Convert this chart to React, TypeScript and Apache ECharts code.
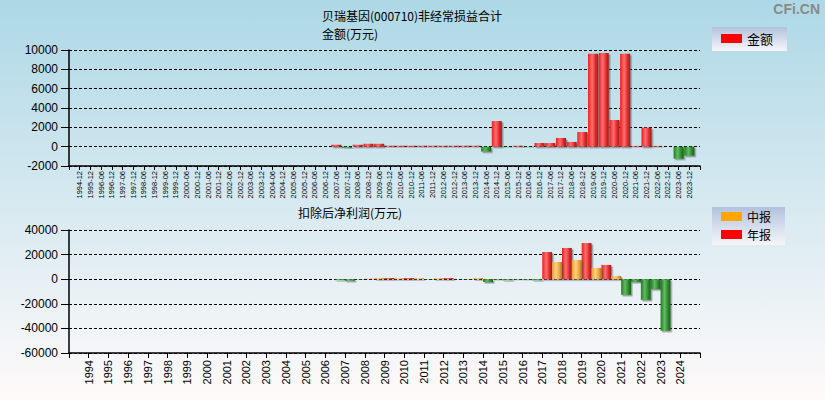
import React, { useEffect, useRef } from 'react';
import * as echarts from 'echarts';

// ---------- data ----------
const periods = [
  '1994-12', '1995-12',
  '1996-06', '1996-12', '1997-06', '1997-12', '1998-06', '1998-12', '1999-06', '1999-12',
  '2000-06', '2000-12', '2001-06', '2001-12', '2002-06', '2002-12', '2003-06', '2003-12',
  '2004-06', '2004-12', '2005-06', '2005-12', '2006-06', '2006-12', '2007-06', '2007-12',
  '2008-06', '2008-12', '2009-06', '2009-12', '2010-06', '2010-12', '2011-06', '2011-12',
  '2012-06', '2012-12', '2013-06', '2013-12', '2014-06', '2014-12', '2015-06', '2015-12',
  '2016-06', '2016-12', '2017-06', '2017-12', '2018-06', '2018-12', '2019-06', '2019-12',
  '2020-06', '2020-12', '2021-06', '2021-12', '2022-06', '2022-12', '2023-06', '2023-12',
];

// 非经常损益合计 (万元)
const nonRecurring: (number | null)[] = [
  null, null,
  null, null, null, null, null, null, null, null,
  null, null, null, null, null, null, null, null,
  null, null, null, null, null, null, 200, -120,
  200, 300, 300, 100, 100, 100, 100, 100,
  100, 100, 100, 100, -500, 2650, -50, 100,
  -60, 380, 380, 900, 490, 1520, 9600, 9700,
  2760, 9600, 80, 1970, 80, null, -1240, -930,
];

const years = [
  '1994', '1995', '1996', '1997', '1998', '1999', '2000', '2001', '2002', '2003',
  '2004', '2005', '2006', '2007', '2008', '2009', '2010', '2011', '2012', '2013',
  '2014', '2015', '2016', '2017', '2018', '2019', '2020', '2021', '2022', '2023', '2024',
];

// 扣除后净利润 (万元)
const annualProfit: (number | null)[] = [
  null, null, null, null, null, null, null, null, null, null,
  null, null, null, -1300, 300, 1000, 1000, -300, 1000, -300,
  -2300, -900, -500, 22100, 25400, 29400, 11600, -12700, -16800, -41900, null,
];
const interimProfit: (number | null)[] = [
  null, null, null, null, null, null, null, null, null, null,
  null, null, -800, -300, 1000, 800, 800, 800, -200, 1000,
  -500, -400, -900, 14000, 15600, 9200, 2700, -2200, -8100, null, null,
];

const topTicks = { min: -2000, max: 10000, interval: 2000 };
const bottomTicks = { min: -60000, max: 40000, interval: 20000 };

// ---------- styles ----------
const grad = (stops: string[]) =>
  new echarts.graphic.LinearGradient(0, 0, 1, 0, [
    { offset: 0, color: stops[0] },
    { offset: 0.4, color: stops[1] },
    { offset: 0.75, color: stops[2] },
    { offset: 1, color: stops[3] },
  ]);
const RED = ['#ee1c1c', '#ff7070', '#e02828', '#962020'];
const GREEN = ['#1f801f', '#62ba62', '#2a8a2a', '#176017'];
const ORANGE = ['#e6a030', '#ffd088', '#e8a436', '#b07422'];

const NUM_FONT = 'Liberation Sans, Arial, sans-serif';
const CJK_FONT = 'Noto Sans CJK SC, sans-serif';

const barItems = (vals: (number | null)[], pos: string[]) =>
  vals.map((v) =>
    v == null
      ? null
      : {
          value: v,
          itemStyle: { color: grad(v >= 0 ? pos : GREEN) },
        }
  );

const titleStyle = {
  fontSize: 12,
  fontWeight: 'normal',
  color: '#000',
  fontFamily: CJK_FONT,
  lineHeight: 13,
};

const legendBg = () =>
  new echarts.graphic.LinearGradient(0, 0, 0, 1, [
    { offset: 0, color: '#b2c2dc' },
    { offset: 1, color: '#f6f6fb' },
  ]);

export default function App() {
  const ref = useRef<HTMLDivElement>(null);

  useEffect(() => {
    if (!ref.current) return;
    const chart = echarts.init(ref.current, null, { renderer: 'svg' });

    const topCats = ['', ...periods, ''];
    const topData = [null, ...barItems(nonRecurring, RED), null];
    const slotCats = ['', ...years];
    const labelCats = ['', ...years, ''];
    const annualData = [null, ...barItems(annualProfit, RED)];
    const interimData = [null, ...barItems(interimProfit, ORANGE)];

    const shadow = {
      shadowColor: 'rgba(80,80,80,0.55)',
      shadowOffsetX: 1.5,
      shadowOffsetY: 1.5,
      shadowBlur: 0,
    };

    const dashed = { show: true, lineStyle: { color: '#000', type: [3, 2] as any, width: 1 } };

    const yAxisCommon = {
      type: 'value' as const,
      axisLine: { show: true, lineStyle: { color: '#000', width: 1.5 } },
      axisTick: { show: true, length: 8, lineStyle: { color: '#000' } },
      axisLabel: {
        color: '#000',
        fontSize: 12,
        fontFamily: NUM_FONT,
        margin: 11,
        formatter: (v: number) => String(v),
      },
      splitLine: dashed,
    };

    const option: any = {
      animation: false,
      backgroundColor: 'transparent',
      title: [
        { text: '贝瑞基因(000710)非经常损益合计', left: 322, top: 9, padding: 0, textStyle: titleStyle },
        { text: '金额(万元)', left: 322, top: 27, padding: 0, textStyle: titleStyle },
        { text: '扣除后净利润(万元)', left: 298, top: 206, padding: 0, textStyle: titleStyle },
      ],
      graphic: [
        {
          type: 'text',
          right: 5,
          top: 2,
          style: {
            text: 'CFi.CN',
            fill: '#8a8a8a',
            font: 'bold 14px Liberation Sans, Arial, sans-serif',
          },
        },
      ],
      legend: [
        {
          data: ['金额'],
          left: 712,
          top: 27,
          orient: 'vertical',
          icon: 'rect',
          itemWidth: 21,
          itemHeight: 9,
          itemGap: 1,
          padding: [5, 14, 6, 9],
          backgroundColor: legendBg(),
          textStyle: { fontSize: 13, color: '#000', fontFamily: CJK_FONT, lineHeight: 13 },
        },
        {
          data: ['中报', '年报'],
          left: 712,
          top: 207,
          orient: 'vertical',
          icon: 'rect',
          itemWidth: 21,
          itemHeight: 9,
          itemGap: 5,
          padding: [3, 14, 4, 9],
          backgroundColor: legendBg(),
          textStyle: { fontSize: 12, color: '#000', fontFamily: CJK_FONT, lineHeight: 13 },
        },
      ],
      grid: [
        { left: 69, right: 125, top: 50, height: 116 },
        { left: 69, right: 125, top: 230, height: 123 },
      ],
      xAxis: [
        {
          type: 'category',
          gridIndex: 0,
          data: topCats,
          boundaryGap: false,
          position: 'bottom',
          axisLine: { onZero: false, lineStyle: { color: '#000', width: 1.5 } },
          axisTick: { show: true, interval: 0, length: 4, lineStyle: { color: '#000' } },
          axisLabel: {
            interval: 0,
            rotate: 90,
            fontSize: 7.5,
            color: '#000',
            fontFamily: NUM_FONT,
            margin: 5,
          },
          splitLine: { show: false },
        },
        {
          type: 'category',
          gridIndex: 1,
          data: slotCats,
          boundaryGap: true,
          position: 'bottom',
          axisLine: { onZero: false, lineStyle: { color: '#000', width: 1.5 } },
          axisTick: { show: true, interval: 0, length: 5, lineStyle: { color: '#000' } },
          axisLabel: { show: false },
          splitLine: { show: false },
        },
        {
          type: 'category',
          gridIndex: 1,
          data: labelCats,
          boundaryGap: false,
          position: 'bottom',
          axisLine: { show: false, onZero: false },
          axisTick: { show: false },
          axisLabel: {
            interval: 0,
            rotate: 90,
            fontSize: 11,
            color: '#000',
            fontFamily: NUM_FONT,
            margin: 7,
          },
          splitLine: { show: false },
        },
      ],
      yAxis: [
        { ...yAxisCommon, gridIndex: 0, ...topTicks },
        { ...yAxisCommon, gridIndex: 1, ...bottomTicks },
      ],
      series: [
        {
          name: '金额',
          type: 'bar',
          xAxisIndex: 0,
          yAxisIndex: 0,
          data: topData,
          barWidth: '94%',
          itemStyle: { color: '#ff0000', ...shadow },
        },
        {
          name: '年报',
          type: 'bar',
          xAxisIndex: 1,
          yAxisIndex: 1,
          data: annualData,
          barGap: '0%',
          barCategoryGap: '0%',
          itemStyle: { color: '#ff0000', ...shadow },
        },
        {
          name: '中报',
          type: 'bar',
          xAxisIndex: 1,
          yAxisIndex: 1,
          data: interimData,
          barGap: '0%',
          barCategoryGap: '0%',
          itemStyle: { color: '#ffa500', ...shadow },
        },
      ],
    };

    chart.setOption(option);
    return () => chart.dispose();
  }, []);

  return (
    <div
      ref={ref}
      style={{
        position: 'fixed',
        left: 0,
        top: 0,
        width: 825,
        height: 400,
        background: 'linear-gradient(to bottom, #add8e6 0%, #fffafa 100%)',
      }}
    />
  );
}
